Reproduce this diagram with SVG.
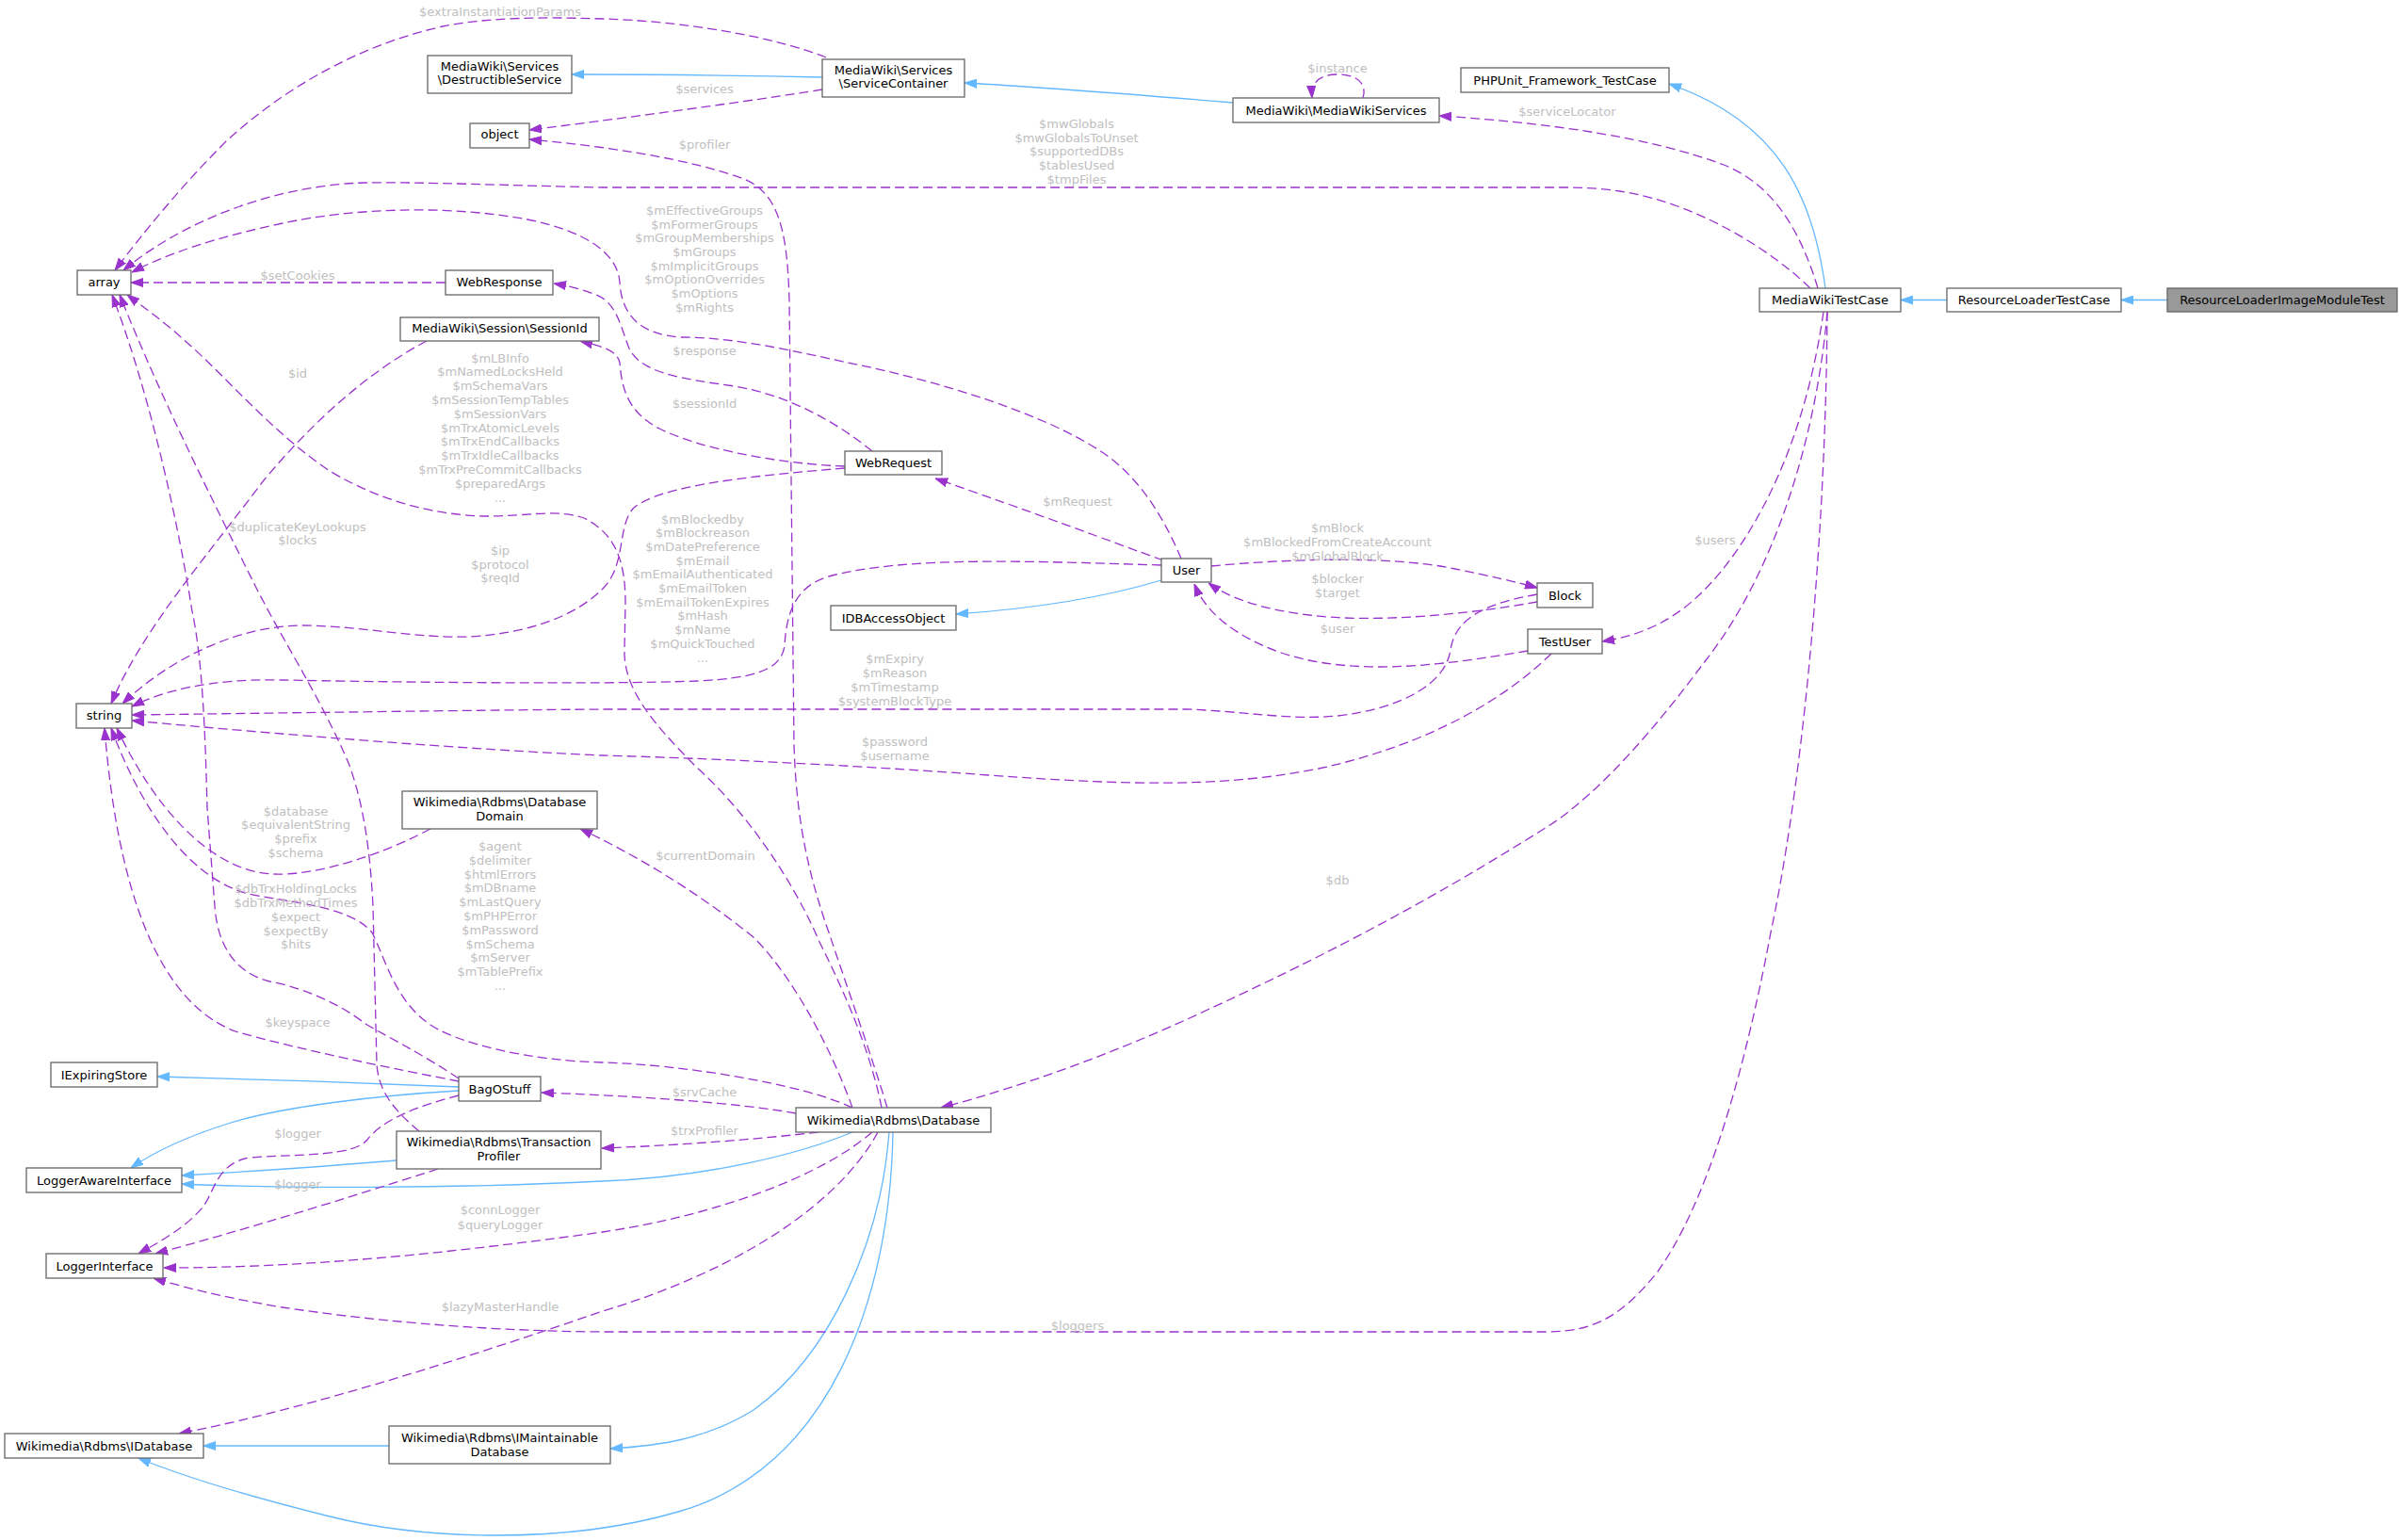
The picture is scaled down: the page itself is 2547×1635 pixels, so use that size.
<svg xmlns="http://www.w3.org/2000/svg" width="2547" height="1635" viewBox="0 0 2547 1635">
<style>
.n rect{fill:#ffffff;stroke:#666666;stroke-width:1.3}
.n rect.hl{fill:#999999}
.n text{font-family:"DejaVu Sans",sans-serif;font-size:13px;text-anchor:middle;fill:#000000}
.u{fill:none;stroke:#9a32cd;stroke-width:1.3;stroke-dasharray:10,5}
.i{fill:none;stroke:#63b8ff;stroke-width:1.3}
.u{marker-end:url(#ap)}
.i{marker-end:url(#ab)}
.l text{font-family:"DejaVu Sans",sans-serif;font-size:13px;text-anchor:middle;fill:#c0c0c0}
</style>
<defs>
<marker id="ap" viewBox="0 0 13 10" refX="13" refY="5" markerWidth="13" markerHeight="10" markerUnits="userSpaceOnUse" orient="auto"><path d="M0,0.5 L13,5 L0,9.5 z" fill="#9a32cd" stroke="#9a32cd" stroke-width="1"/></marker>
<marker id="ab" viewBox="0 0 13 10" refX="13" refY="5" markerWidth="13" markerHeight="10" markerUnits="userSpaceOnUse" orient="auto"><path d="M0,0.5 L13,5 L0,9.5 z" fill="#63b8ff" stroke="#63b8ff" stroke-width="1"/></marker>
</defs>
<rect x="0" y="0" width="2547" height="1635" fill="#ffffff"/>

<g id="edges">
<!-- inheritance -->
<path class="i" d="M2301,318.5 L2252,318.5"/>
<path class="i" d="M2067,318.5 L2018,318.5"/>
<path class="i" d="M1938,306 C1925,210 1890,130 1772,89"/>
<path class="i" d="M1309,109 C1200,100 1100,92 1024,88"/>
<path class="i" d="M873,82 C780,80 700,79 607,79"/>
<path class="i" d="M1233,616 C1170,635 1100,646 1015,652"/>
<path class="i" d="M487,1154 C400,1150 250,1145 167,1143"/>
<path class="i" d="M487,1158 C400,1163 300,1175 245,1192 C200,1206 165,1222 139,1240"/>
<path class="i" d="M421,1232 C350,1238 260,1244 193,1248"/>
<path class="i" d="M905,1202 C850,1225 750,1250 640,1254 C480,1262 300,1262 193,1257"/>
<path class="i" d="M944,1202 C935,1320 880,1440 800,1497 C750,1528 700,1535 648,1538"/>
<path class="i" d="M413,1535 L216,1535"/>
<path class="i" d="M948,1202 C945,1380 880,1560 720,1605 C600,1640 450,1635 350,1610 C270,1590 200,1570 147,1548"/>
<!-- usage -->
<path class="u" d="M877,61 C820,38 720,22 640,20 C580,18 520,18 470,28 C380,48 300,95 240,150 C190,200 150,250 122,287"/>
<path class="u" d="M873,95 C800,107 650,127 562,138"/>
<path class="u" d="M942,1176 C925,1120 900,1050 880,990 C855,920 845,860 843,790 L838,320 C836,240 825,205 790,190 C730,168 640,155 562,148"/>
<path class="u" d="M1447,104 C1452,88 1440,79 1420,79 C1400,79 1392,88 1393,104"/>
<path class="u" d="M1930,306 C1910,240 1880,195 1830,175 C1750,145 1640,130 1528,123"/>
<path class="u" d="M1922,306 C1880,265 1800,215 1720,203 C1700,200 1680,199 1660,199 L640,199 C540,197 450,193 388,194 C300,196 200,230 131,287"/>
<path class="u" d="M1254,593 C1240,560 1215,510 1170,480 C1110,440 1000,405 900,385 C840,372 780,358 722,358 C680,355 660,335 658,300 C656,268 620,245 560,233 C480,218 380,220 300,237 C230,252 180,268 140,289"/>
<path class="u" d="M473,300 L139,300"/>
<path class="u" d="M926,479 C890,450 840,420 780,410 C720,402 680,395 668,370 C658,345 655,320 630,312 C615,306 600,303 588,301"/>
<path class="u" d="M897,495 C820,492 740,475 700,455 C665,437 660,410 658,385 C655,372 640,368 616,362"/>
<path class="u" d="M453,362 C390,395 330,450 280,510 C220,590 150,670 118,747"/>
<path class="u" d="M936,1176 C925,1120 900,1060 870,1000 C840,930 790,860 740,815 C690,765 662,730 663,690 L664,640 C664,590 650,565 620,550 C590,540 560,548 520,548 C460,548 400,530 350,500 C290,460 240,400 200,365 C175,342 155,328 135,313"/>
<path class="u" d="M897,497 C800,505 700,515 672,540 C655,560 665,600 640,625 C610,655 560,672 500,676 C440,678 380,664 320,664 C250,665 180,700 130,747"/>
<path class="u" d="M1235,595 C1180,575 1100,545 993,508"/>
<path class="u" d="M1233,600 C1100,596 960,590 880,612 C845,622 835,650 833,685 C830,712 800,720 740,723 C640,727 400,724 300,722 C220,720 170,735 140,750"/>
<path class="u" d="M1286,601 C1370,593 1480,590 1545,604 C1580,611 1610,618 1632,624"/>
<path class="u" d="M1632,639 C1560,652 1460,662 1390,653 C1340,647 1305,635 1283,619"/>
<path class="u" d="M1622,691 C1540,705 1440,720 1360,693 C1310,675 1280,650 1268,620"/>
<path class="u" d="M1936,331 C1922,430 1890,520 1840,590 C1800,645 1760,672 1701,681"/>
<path class="u" d="M1632,631 C1580,640 1545,655 1540,690 C1535,725 1490,752 1420,760 C1370,765 1320,755 1260,753 L640,753 C500,754 300,757 140,759"/>
<path class="u" d="M1647,694 C1600,740 1520,790 1400,816 C1300,836 1200,834 1050,823 C900,812 750,805 640,802 C500,796 300,780 140,765"/>
<path class="u" d="M487,1145 C450,1120 410,1100 388,1087 C360,1065 320,1048 286,1042 C240,1030 230,990 228,962 L220,858 C218,780 215,700 204,649 C190,560 160,420 119,313"/>
<path class="u" d="M445,1201 C420,1180 402,1160 400,1130 L396,962 C393,900 385,850 370,810 C340,740 300,680 270,620 C220,520 170,420 127,313"/>
<path class="u" d="M457,880 C410,905 340,930 290,928 C220,925 160,850 124,773"/>
<path class="u" d="M905,1176 C850,1150 720,1130 640,1128 C560,1126 490,1108 460,1090 C420,1065 410,1020 395,990 C370,960 300,958 260,948 C200,930 150,860 118,773"/>
<path class="u" d="M905,1176 C885,1120 845,1040 800,995 C750,955 690,915 616,880"/>
<path class="u" d="M487,1148 C420,1135 320,1115 250,1095 C170,1065 125,950 111,773"/>
<path class="u" d="M845,1182 C780,1170 660,1163 575,1160"/>
<path class="u" d="M869,1202 C800,1210 720,1216 639,1219"/>
<path class="u" d="M487,1163 C440,1175 405,1190 390,1210 C375,1228 320,1225 265,1229 C230,1235 228,1265 215,1282 C195,1305 170,1318 147,1331"/>
<path class="u" d="M465,1241 C400,1262 280,1300 165,1331"/>
<path class="u" d="M926,1202 C870,1250 760,1290 640,1308 C480,1330 330,1346 174,1346"/>
<path class="u" d="M932,1202 C890,1280 780,1350 640,1392 C500,1440 330,1495 190,1522"/>
<path class="u" d="M1940,331 C1938,600 1910,850 1880,990 C1850,1150 1810,1280 1760,1350 C1720,1400 1690,1414 1640,1414 L640,1414 C500,1413 380,1400 300,1388 C240,1378 200,1368 163,1357"/>
<path class="u" d="M1940,331 C1930,450 1890,600 1811,701 C1760,770 1700,840 1647,875 C1560,930 1450,995 1280,1073 C1180,1120 1080,1155 999,1176"/>
</g>

<g id="labels" class="l">
<text x="531" y="17">$extraInstantiationParams</text>
<text x="748" y="99">$services</text>
<text x="748" y="158">$profiler</text>
<text x="1420" y="77">$instance</text>
<text x="1664" y="123">$serviceLocator</text>
<text x="1143" y="135.5">$mwGlobals</text>
<text x="1143" y="150.5">$mwGlobalsToUnset</text>
<text x="1143" y="165">$supportedDBs</text>
<text x="1143" y="180">$tablesUsed</text>
<text x="1143" y="195">$tmpFiles</text>
<text x="748" y="228">$mEffectiveGroups</text>
<text x="748" y="243">$mFormerGroups</text>
<text x="748" y="257">$mGroupMemberships</text>
<text x="748" y="272">$mGroups</text>
<text x="748" y="287">$mImplicitGroups</text>
<text x="748" y="301">$mOptionOverrides</text>
<text x="748" y="316">$mOptions</text>
<text x="748" y="331">$mRights</text>
<text x="316" y="296.5">$setCookies</text>
<text x="748" y="376.5">$response</text>
<text x="316" y="400.5">$id</text>
<text x="748" y="433">$sessionId</text>
<text x="531" y="384.5">$mLBInfo</text>
<text x="531" y="399.3">$mNamedLocksHeld</text>
<text x="531" y="414.1">$mSchemaVars</text>
<text x="531" y="428.9">$mSessionTempTables</text>
<text x="531" y="443.7">$mSessionVars</text>
<text x="531" y="458.5">$mTrxAtomicLevels</text>
<text x="531" y="473.3">$mTrxEndCallbacks</text>
<text x="531" y="488.1">$mTrxIdleCallbacks</text>
<text x="531" y="502.9">$mTrxPreCommitCallbacks</text>
<text x="531" y="517.7">$preparedArgs</text>
<text x="531" y="532.5">...</text>
<text x="1144" y="536.5">$mRequest</text>
<text x="316" y="563.5">$duplicateKeyLookups</text>
<text x="316" y="578">$locks</text>
<text x="746" y="555.5">$mBlockedby</text>
<text x="746" y="570.2">$mBlockreason</text>
<text x="746" y="584.9">$mDatePreference</text>
<text x="746" y="599.6">$mEmail</text>
<text x="746" y="614.3">$mEmailAuthenticated</text>
<text x="746" y="629">$mEmailToken</text>
<text x="746" y="643.7">$mEmailTokenExpires</text>
<text x="746" y="658.4">$mHash</text>
<text x="746" y="673.1">$mName</text>
<text x="746" y="687.8">$mQuickTouched</text>
<text x="746" y="702.5">...</text>
<text x="1420" y="565">$mBlock</text>
<text x="1420" y="580">$mBlockedFromCreateAccount</text>
<text x="1420" y="595">$mGlobalBlock</text>
<text x="531" y="588.5">$ip</text>
<text x="531" y="603.5">$protocol</text>
<text x="531" y="618">$reqId</text>
<text x="1420" y="619">$blocker</text>
<text x="1420" y="633.5">$target</text>
<text x="1420" y="672">$user</text>
<text x="1821" y="577.5">$users</text>
<text x="950" y="704">$mExpiry</text>
<text x="950" y="719">$mReason</text>
<text x="950" y="733.5">$mTimestamp</text>
<text x="950" y="748.5">$systemBlockType</text>
<text x="950" y="792">$password</text>
<text x="950" y="807">$username</text>
<text x="314" y="865.5">$database</text>
<text x="314" y="880">$equivalentString</text>
<text x="314" y="895">$prefix</text>
<text x="314" y="909.5">$schema</text>
<text x="531" y="903">$agent</text>
<text x="531" y="917.8">$delimiter</text>
<text x="531" y="932.6">$htmlErrors</text>
<text x="531" y="947.4">$mDBname</text>
<text x="531" y="962.2">$mLastQuery</text>
<text x="531" y="977">$mPHPError</text>
<text x="531" y="991.8">$mPassword</text>
<text x="531" y="1006.6">$mSchema</text>
<text x="531" y="1021.4">$mServer</text>
<text x="531" y="1036.2">$mTablePrefix</text>
<text x="531" y="1051">...</text>
<text x="749" y="913">$currentDomain</text>
<text x="1420" y="938.5">$db</text>
<text x="314" y="948">$dbTrxHoldingLocks</text>
<text x="314" y="963">$dbTrxMethodTimes</text>
<text x="314" y="977.5">$expect</text>
<text x="314" y="992.5">$expectBy</text>
<text x="314" y="1007">$hits</text>
<text x="316" y="1089.5">$keyspace</text>
<text x="748" y="1164">$srvCache</text>
<text x="748" y="1204.5">$trxProfiler</text>
<text x="316" y="1207.5">$logger</text>
<text x="316" y="1261.5">$logger</text>
<text x="531" y="1289">$connLogger</text>
<text x="531" y="1304.5">$queryLogger</text>
<text x="531" y="1392">$lazyMasterHandle</text>
<text x="1144" y="1411.5">$loggers</text>
</g>

<g id="node-ResourceLoaderImageModuleTest" class="n"><rect class="hl" x="2301" y="306" width="244" height="25"/><text x="2423" y="323">ResourceLoaderImageModuleTest</text></g>
<g id="node-ResourceLoaderTestCase" class="n"><rect x="2067" y="306" width="185" height="25"/><text x="2159.5" y="323">ResourceLoaderTestCase</text></g>
<g id="node-MediaWikiTestCase" class="n"><rect x="1868" y="306" width="150" height="25"/><text x="1943" y="323">MediaWikiTestCase</text></g>
<g id="node-PHPUnit_Framework_TestCase" class="n"><rect x="1551" y="72" width="221" height="26"/><text x="1661.5" y="89.5">PHPUnit_Framework_TestCase</text></g>
<g id="node-MediaWikiServices" class="n"><rect x="1309" y="104" width="219" height="26"/><text x="1418.5" y="121.5">MediaWiki\MediaWikiServices</text></g>
<g id="node-ServiceContainer" class="n"><rect x="873" y="63" width="151" height="40"/><text x="948.5" y="78.5">MediaWiki\Services</text><text x="948.5" y="93">\ServiceContainer</text></g>
<g id="node-DestructibleService" class="n"><rect x="454" y="59" width="153" height="40"/><text x="530.5" y="75">MediaWiki\Services</text><text x="530.5" y="89">\DestructibleService</text></g>
<g id="node-object" class="n"><rect x="499" y="131" width="63" height="26"/><text x="530.5" y="147">object</text></g>
<g id="node-array" class="n"><rect x="82" y="287" width="57" height="26"/><text x="110.5" y="304">array</text></g>
<g id="node-WebResponse" class="n"><rect x="473" y="287" width="114" height="26"/><text x="530" y="304">WebResponse</text></g>
<g id="node-SessionId" class="n"><rect x="425" y="337" width="211" height="25"/><text x="530.5" y="353">MediaWiki\Session\SessionId</text></g>
<g id="node-WebRequest" class="n"><rect x="897" y="479" width="103" height="25"/><text x="948.5" y="496">WebRequest</text></g>
<g id="node-User" class="n"><rect x="1233" y="593" width="53" height="25"/><text x="1259.5" y="610">User</text></g>
<g id="node-IDBAccessObject" class="n"><rect x="882" y="643" width="133" height="26"/><text x="948.5" y="660.5">IDBAccessObject</text></g>
<g id="node-Block" class="n"><rect x="1632" y="619" width="59" height="26"/><text x="1661.5" y="636.5">Block</text></g>
<g id="node-TestUser" class="n"><rect x="1622" y="668" width="79" height="26"/><text x="1661.5" y="685.5">TestUser</text></g>
<g id="node-string" class="n"><rect x="81" y="747" width="59" height="26"/><text x="110.5" y="764">string</text></g>
<g id="node-DatabaseDomain" class="n"><rect x="427" y="840" width="207" height="40"/><text x="530.5" y="856">Wikimedia\Rdbms\Database</text><text x="530.5" y="871">Domain</text></g>
<g id="node-IExpiringStore" class="n"><rect x="54" y="1128" width="113" height="26"/><text x="110.5" y="1145.5">IExpiringStore</text></g>
<g id="node-BagOStuff" class="n"><rect x="487" y="1143" width="87" height="26"/><text x="530.5" y="1160.5">BagOStuff</text></g>
<g id="node-Database" class="n"><rect x="845" y="1176" width="207" height="26"/><text x="948.5" y="1193.5">Wikimedia\Rdbms\Database</text></g>
<g id="node-TransactionProfiler" class="n"><rect x="421" y="1201" width="217" height="40"/><text x="529.5" y="1216.5">Wikimedia\Rdbms\Transaction</text><text x="529.5" y="1231.5">Profiler</text></g>
<g id="node-LoggerAwareInterface" class="n"><rect x="28" y="1240" width="165" height="26"/><text x="110.5" y="1257.5">LoggerAwareInterface</text></g>
<g id="node-LoggerInterface" class="n"><rect x="49" y="1331" width="124" height="26"/><text x="111" y="1348.5">LoggerInterface</text></g>
<g id="node-IDatabase" class="n"><rect x="5" y="1522" width="211" height="26"/><text x="110.5" y="1539.5">Wikimedia\Rdbms\IDatabase</text></g>
<g id="node-IMaintainableDatabase" class="n"><rect x="413" y="1514" width="235" height="40"/><text x="530.5" y="1530.5">Wikimedia\Rdbms\IMaintainable</text><text x="530.5" y="1545.5">Database</text></g>
</svg>
